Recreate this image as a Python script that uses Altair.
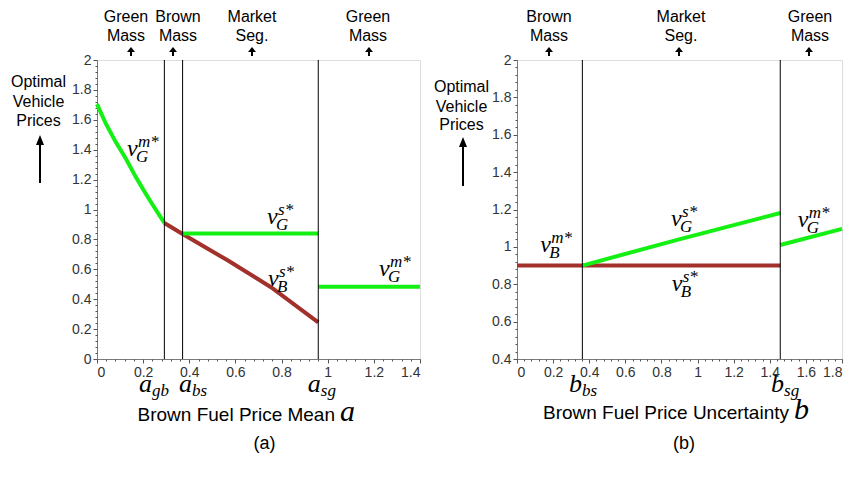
import altair as alt
import pandas as pd

# ---------------- Panel (a): prices vs brown fuel price mean a
a_green_mass_left = [0.0, 0.039, 0.082, 0.126, 0.169, 0.212, 0.248, 0.292]
v_green_mass_left = [1.705, 1.572, 1.449, 1.338, 1.215, 1.104, 1.015, 0.91]
a_brown_seg = [0.292, 0.371, 0.566, 0.754, 0.959]
v_brown_seg = [0.91, 0.836, 0.66, 0.48, 0.245]
a_green_seg = [0.371, 0.959]
v_green_seg = [0.84, 0.84]
a_green_mass_right = [0.959, 1.4]
v_green_mass_right = [0.484, 0.484]
a_thresholds = [0.292, 0.371, 0.959]
a_xticks = [0, 0.2, 0.4, 0.6, 0.8, 1.0, 1.2, 1.4]
a_yticks = [0, 0.2, 0.4, 0.6, 0.8, 1.0, 1.2, 1.4, 1.6, 1.8, 2.0]

# ---------------- Panel (b): prices vs brown fuel price uncertainty b
b_brown = [0.0, 0.362, 1.458]
v_brown_b = [0.9, 0.9, 0.9]
b_green_seg = [0.362, 0.908, 1.458]
v_green_seg_b = [0.9, 1.043, 1.181]
b_green_mass = [1.458, 1.8]
v_green_mass_b = [1.01, 1.096]
b_thresholds = [0.362, 1.458]
b_xticks = [0, 0.2, 0.4, 0.6, 0.8, 1.0, 1.2, 1.4, 1.6, 1.8]
b_yticks = [0.4, 0.6, 0.8, 1.0, 1.2, 1.4, 1.6, 1.8, 2.0]

GREEN = "#14f014"
BROWN = "#a2302b"
GREY = "#7a7a7a"
SANS = "Liberation Sans"
SERIF = "Liberation Serif"
H = 299
DUMMY = pd.DataFrame({"d": [0]})


def seg_df(segs):
    rows = []
    for name, xs, vs in segs:
        for x, v in zip(xs, vs):
            rows.append({"x": x, "v": v, "seg": name})
    return pd.DataFrame(rows)


def txt(s, px, py, size=16, align="center", font=SANS, style="normal"):
    return alt.Chart(DUMMY).mark_text(
        text=s, align=align, baseline="alphabetic", font=font,
        fontSize=size, fontStyle=style, color="black"
    ).encode(x=alt.value(px), y=alt.value(py))


def arrow(px, tip, bottom, head_h, head_w, stem_w=2):
    k = head_w / 2 / (head_h / 2)
    path = f"M0,-1L{k:.3f},1L{-k:.3f},1Z"
    head = alt.Chart(DUMMY).mark_point(
        shape=path, size=head_h * head_h, filled=True, opacity=1,
        color="black", strokeWidth=0
    ).encode(x=alt.value(px), y=alt.value(tip + head_h / 2))
    stem = alt.Chart(DUMMY).mark_rule(color="black", strokeWidth=stem_w).encode(
        x=alt.value(px), y=alt.value(tip + head_h - 1), y2=alt.value(bottom)
    )
    return [stem, head]


def minor_vals(lo, hi, step):
    n = int(round((hi - lo) / step))
    return [round(lo + i * step, 3) for i in range(n + 1)]


def panel(W, brown_segs, green_segs, thresholds, xdom, ydom, xticks, yticks,
          math_labels, bottom_labels, tops, top_arrows, ylab, yarrow,
          title_text, title_var, title_x, title_y, caption, cap_x):
    xs = alt.Scale(domain=xdom, nice=False, zero=False)
    ys = alt.Scale(domain=ydom, nice=False, zero=False)
    major_ax = dict(title=None, grid=False, format="~g", tickSize=4,
                    labelFont=SANS, labelFontSize=14, labelColor="#333",
                    tickColor="#555", domainColor=GREY, labelPadding=2)
    brown_df = seg_df(brown_segs)
    green_df = seg_df(green_segs)
    brown = alt.Chart(brown_df).mark_line(strokeWidth=4, color=BROWN).encode(
        x=alt.X("x:Q", scale=xs, axis=alt.Axis(values=xticks, **major_ax)),
        y=alt.Y("v:Q", scale=ys, axis=alt.Axis(values=yticks, **major_ax)),
        detail="seg:N",
    )
    minor = alt.Chart(brown_df).mark_point(opacity=0).encode(
        x=alt.X("x:Q", scale=xs, axis=alt.Axis(
            values=minor_vals(xdom[0], xdom[1], 0.04), labels=False, tickSize=2,
            domain=False, grid=False, title=None, orient="bottom", tickColor="#555")),
        y=alt.Y("v:Q", scale=ys, axis=alt.Axis(
            values=minor_vals(ydom[0], ydom[1], 0.04), labels=False, tickSize=2,
            domain=False, grid=False, title=None, orient="left", tickColor="#555")),
    )
    green = alt.Chart(green_df).mark_line(strokeWidth=4, color=GREEN).encode(
        x=alt.X("x:Q", scale=xs, axis=None),
        y=alt.Y("v:Q", scale=ys, axis=None),
        detail="seg:N",
    )
    rules = alt.Chart(pd.DataFrame({"x": thresholds})).mark_rule(
        color="black", strokeWidth=1).encode(x=alt.X("x:Q", scale=xs, axis=None))

    mdf = pd.DataFrame(math_labels, columns=["x", "y", "base", "sub", "sup"])
    menc = dict(x=alt.X("x:Q", scale=xs, axis=None), y=alt.Y("y:Q", scale=ys, axis=None))
    mbase = alt.Chart(mdf).mark_text(align="left", baseline="alphabetic", font=SERIF,
                                     fontStyle="italic", fontSize=24).encode(text="base:N", **menc)
    msup = alt.Chart(mdf).mark_text(align="left", baseline="alphabetic", font=SERIF,
                                    fontStyle="italic", fontSize=17, dx=11, dy=-9).encode(text="sup:N", **menc)
    msub = alt.Chart(mdf).mark_text(align="left", baseline="alphabetic", font=SERIF,
                                    fontStyle="italic", fontSize=17, dx=9, dy=6).encode(text="sub:N", **menc)

    bdf = pd.DataFrame(bottom_labels, columns=["x", "base", "sub"])
    benc = dict(x=alt.X("x:Q", scale=xs, axis=None))
    bbase = alt.Chart(bdf).mark_text(align="left", baseline="alphabetic", font=SERIF,
                                     fontStyle="italic", fontSize=26).encode(
        text="base:N", y=alt.value(H + 33), **benc)
    bsub = alt.Chart(bdf).mark_text(align="left", baseline="alphabetic", font=SERIF,
                                    fontStyle="italic", fontSize=17, dx=13).encode(
        text="sub:N", y=alt.value(H + 37), **benc)

    layers = [brown, minor, green, rules, mbase, msup, msub, bbase, bsub]
    for s, px, py in tops:
        layers.append(txt(s, px, py, size=16))
    for px in top_arrows:
        layers += arrow(px, -13, -4, 5, 8)
    for s, px, py in ylab:
        layers.append(txt(s, px, py, size=16))
    layers += arrow(yarrow[0], yarrow[1], yarrow[2], 10, 8)
    layers.append(txt(title_text, title_x, title_y, size=19, align="right"))
    layers.append(txt(title_var, title_x + 5, title_y, size=30, align="left",
                      font=SERIF, style="italic"))
    layers.append(txt(caption, cap_x, 90 + H, size=18))

    return alt.layer(*layers).resolve_axis(x="independent", y="independent").properties(
        width=W, height=H)


left = panel(
    323,
    [("bs", a_brown_seg, v_brown_seg)],
    [("gm1", a_green_mass_left, v_green_mass_left),
     ("gs", a_green_seg, v_green_seg),
     ("gm2", a_green_mass_right, v_green_mass_right)],
    a_thresholds, [0, 1.4], [0, 2], a_xticks, a_yticks,
    [(0.130, 1.36, "v", "G", "m*"), (0.737, 0.905, "v", "G", "s*"),
     (0.741, 0.49, "v", "B", "s*"), (1.222, 0.552, "v", "G", "m*")],
    [(0.182, "a", "gb"), (0.355, "a", "bs"), (0.914, "a", "sg")],
    [("Green", 29, -38), ("Mass", 29, -19), ("Brown", 81, -38), ("Mass", 81, -19),
     ("Market", 155, -38), ("Seg.", 155, -19), ("Green", 271, -38), ("Mass", 271, -19)],
    [34, 76, 155, 272],
    [("Optimal", -58.5, 27), ("Vehicle", -58.5, 47), ("Prices", -58.5, 66)],
    (-57, 75, 123),
    "Brown Fuel Price Mean", "a", 238, H + 62, "(a)", 167.5,
)

right = panel(
    325,
    [("bm", b_brown, v_brown_b)],
    [("gs", b_green_seg, v_green_seg_b),
     ("gm", b_green_mass, v_green_mass_b)],
    b_thresholds, [0, 1.8], [0.4, 2], b_xticks, b_yticks,
    [(0.129, 0.971, "v", "B", "m*"), (0.853, 1.113, "v", "G", "s*"),
     (0.857, 0.765, "v", "B", "s*"), (1.555, 1.105, "v", "G", "m*")],
    [(0.288, "b", "bs"), (1.407, "b", "sg")],
    [("Brown", 32, -38), ("Mass", 32, -19), ("Market", 164, -38), ("Seg.", 164, -19),
     ("Green", 293, -38), ("Mass", 293, -19)],
    [32, 162, 292],
    [("Optimal", -55.5, 32), ("Vehicle", -55.5, 52), ("Prices", -55.5, 70)],
    (-54, 77, 126),
    "Brown Fuel Price Uncertainty", "b", 272, H + 60, "(b)", 167,
)

chart = alt.hconcat(left, right, spacing=4).properties(
    padding={"left": 2, "top": 0, "right": -8, "bottom": 0}
).configure_view(stroke=GREY, strokeWidth=1).configure(background="white")

chart.save("out.html", embed_options={"renderer": "svg", "actions": False})
